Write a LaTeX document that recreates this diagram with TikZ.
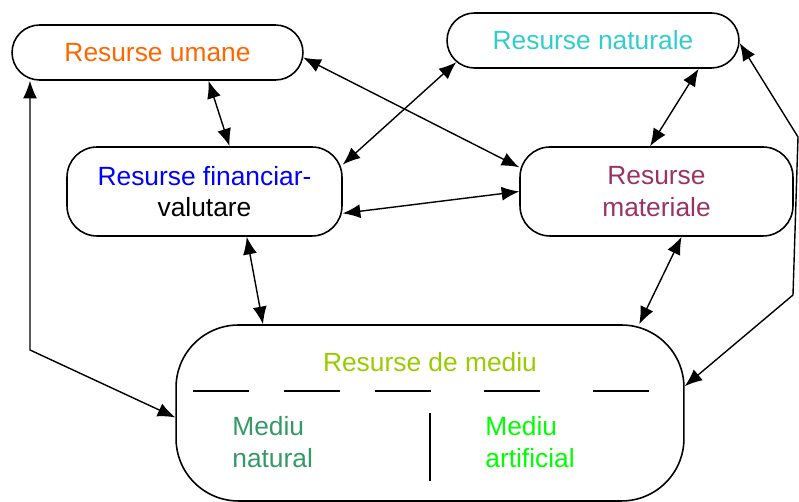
\documentclass[tikz,border=0pt]{standalone}
\usepackage{fontspec}
\setmainfont{Liberation Sans}
\usepackage{xcolor}
\usepackage{tikz}
\usetikzlibrary{calc}
\usetikzlibrary{arrows.meta}
\usetikzlibrary{shapes}
\usetikzlibrary{shapes.misc}
\definecolor{umanecol}{HTML}{FF6600}
\definecolor{naturalecol}{HTML}{33CCCC}
\definecolor{materialecol}{HTML}{993366}
\definecolor{mediucol}{HTML}{99CC00}
\definecolor{naturalcol}{HTML}{339966}
\definecolor{artificialcol}{HTML}{00FF00}
\tikzset{>={Latex[length=10pt,width=8pt]}}
\tikzstyle{pill} = [rounded rectangle, draw, line width=0.9pt, minimum height=1.1cm, inner sep=0]
\tikzstyle{res} = [rectangle, rounded corners=0.6cm, draw, line width=0.9pt, minimum height=1.78cm, align=center, inner sep=0]
\tikzstyle{link} = [<->, line width=0.8pt]

\begin{document}
\begin{tikzpicture}[x=0.02cm, y=-0.02cm, every node/.style={font=\fontsize{15}{18}\selectfont}]
\useasboundingbox (0, 0) rectangle (799, 502);
\node [pill, minimum width=5.82cm, text=umanecol] (umane) at (157.5, 52.5) {Resurse umane};
\node [pill, minimum width=5.84cm, text=naturalecol] (naturale) at (593, 40.5) {Resurse naturale};
\node [res, minimum width=5.5cm] (financiar) at (204.5, 191.5) {\textcolor{blue}{Resurse financiar-}\\valutare};
\node [res, minimum width=5.46cm, text=materialecol] (materiale) at (656.5, 191.5) {Resurse\\materiale};
\node [res, rounded corners=1.25cm, minimum width=10.16cm, minimum height=3.52cm] (mediu) at (430, 413) {};
%inside the mediu box
\node [text=mediucol] (titlu) at (430, 362) {Resurse de mediu};
\foreach \x in {193, 284, 375, 484, 593}
  \draw [line width=0.9pt] (\x, 391) -- ++(56, 0);
\draw [line width=0.9pt] (430, 413) -- (430, 481);
\node [anchor=west, align=left, inner sep=0, text=naturalcol] (natural) at (232, 442) {Mediu\\natural};
\node [anchor=west, align=left, inner sep=0, text=artificialcol] (artificial) at (485, 442) {Mediu\\artificial};
%links
\coordinate (cotL) at (30, 350);
\coordinate (cotR1) at (798, 137);
\coordinate (cotR2) at (793, 295);
\draw [link] (mediu.-179) -- (cotL) -- (cotL |- umane.south);
\draw [link] (umane.-29) -- (financiar.61);
\draw [link] (umane.-2) -- (materiale.170);
\draw [link] (naturale.-171) -- (financiar.11);
\draw [link] (naturale.-15) -- (materiale.98);
\draw [link] (naturale.-1) -- (cotR1) -- (cotR2) -- (mediu.6);
\draw [link] (financiar.-9) -- (materiale.west);
\draw [link] (financiar.-47) -- (mediu.152);
\draw [link] (materiale.-61) -- (mediu.23);
\end{tikzpicture}
\end{document}
